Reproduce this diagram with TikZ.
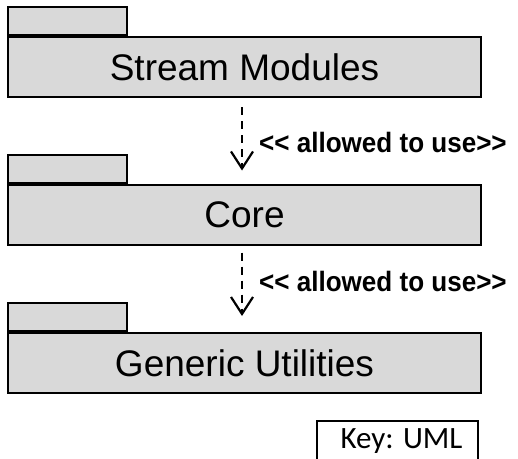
\documentclass[tikz,border=0pt]{standalone}
\usepackage{fontspec}
\setmainfont{Liberation Sans}
\newfontfamily\keyfont{Carlito}
\usetikzlibrary{arrows.meta}
\definecolor{pkgfill}{RGB}{217,217,217}
\newcommand{\deptext}[1]{\scalebox{0.93}[1]{#1}}
\tikzset{
  pkgbody/.style={draw=black, fill=pkgfill, line width=2pt, minimum width=473pt,
    minimum height=60pt, inner sep=0pt, text height=26.6pt, text depth=0pt,
    font=\fontsize{37}{40}\selectfont},
  pkgtab/.style={draw=black, fill=pkgfill, line width=1.6pt, minimum width=119pt,
    minimum height=28pt, inner sep=0pt, anchor=south west},
  usedep/.style={line width=2.2pt, dash pattern=on 8pt off 6pt,
    -{Straight Barb[length=17pt, width=22pt, line width=2.2pt]}},
  deplabel/.style={anchor=west, inner sep=0pt, font=\fontsize{28}{30}\selectfont\bfseries},
  keybox/.style={draw=black, line width=1.6pt, anchor=north, minimum width=161pt,
    inner xsep=0pt, inner ysep=11pt, text height=17pt, text depth=15pt,
    font=\keyfont\fontsize{31}{32}\selectfont}
}
\begin{document}
\begin{tikzpicture}[x=1pt, y=-1pt]
\useasboundingbox (0,0) rectangle (518,458);
\clip (0,0) rectangle (518,458);

% packages, top to bottom
\node[pkgbody] (sm) at (244.5,67) {Stream Modules};
\node[pkgtab] (smtab) at (sm.north west) {};
\node[pkgbody] (core) at (244.5,214.5) {Core};
\node[pkgtab] (coretab) at (core.north west) {};
\node[pkgbody] (gu) at (244.5,363) {Generic Utilities};
\node[pkgtab] (gutab) at (gu.north west) {};

% dependencies
\draw[usedep, shorten <=9pt, shorten >=13pt] ([xshift=-2.5pt]sm.south) -- ([xshift=-2.5pt]core.north);
\draw[usedep, shorten <=7pt, shorten >=16pt] ([xshift=-2.5pt]core.south) -- ([xshift=-2.5pt]gu.north);
\node[deplabel] (l1) at (259,142.5) {\deptext{{<}{<} allowed to use{>}{>}}};
\node[deplabel] (l2) at (259,281) {\deptext{{<}{<} allowed to use{>}{>}}};

% key
\node[keybox] (key) at (397.5,420) {\hspace{8pt}Key: UML};
\end{tikzpicture}
\end{document}
